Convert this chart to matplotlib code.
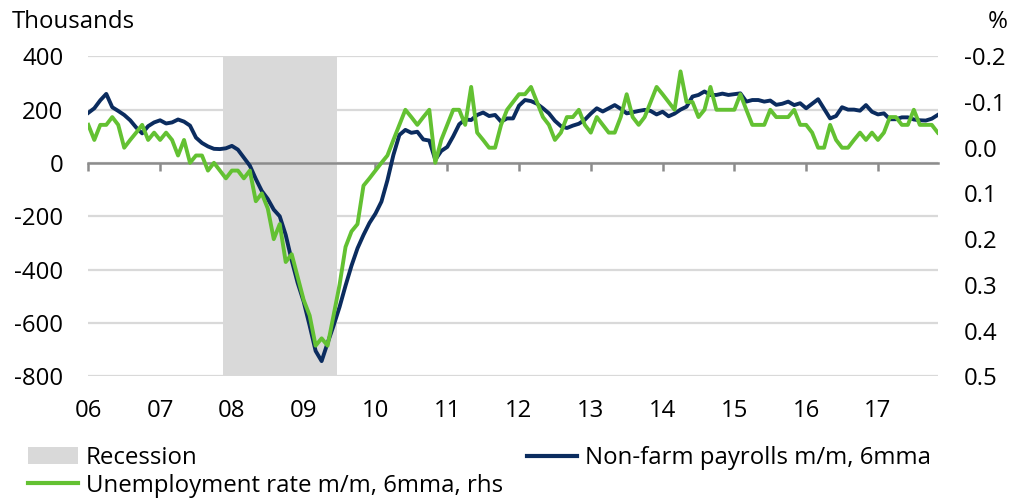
import numpy as np
import matplotlib
matplotlib.use("Agg")
import matplotlib.pyplot as plt
from matplotlib.patches import Patch
from matplotlib.lines import Line2D

plt.rcParams["font.family"] = ["Open Sans", "DejaVu Sans"]
plt.rcParams["axes.unicode_minus"] = False

# monthly data, Jan 2006 - Nov 2017
year_labels = ["06", "07", "08", "09", "10", "11", "12", "13", "14", "15", "16", "17"]

# non-farm payrolls m/m, 6mma (thousands)
nfp = [
    188, 205, 235, 259, 209, 195, 180, 160, 133, 111, 138, 152,        # 2006
    160, 148, 152, 163, 155, 140, 95, 75, 62, 53, 52, 55,              # 2007
    64, 50, 20, -10, -60, -105, -135, -175, -200, -270, -365, -450,    # 2008
    -520, -610, -705, -743, -675, -610, -540, -460, -385, -320, -270, -225,  # 2009
    -190, -145, -65, 30, 105, 124, 113, 117, 88, 84, 12, 45,           # 2010
    60, 100, 145, 163, 161, 180, 189, 176, 180, 155, 167, 167,         # 2011
    215, 236, 232, 222, 205, 186, 158, 138, 131, 140, 147, 162,        # 2012
    185, 205, 193, 205, 217, 203, 186, 190, 195, 199, 195, 182,        # 2013
    192, 175, 185, 200, 211, 249, 255, 268, 255, 255, 260, 255,        # 2014
    258, 261, 230, 236, 236, 230, 234, 218, 222, 230, 217, 224,        # 2015
    205, 222, 239, 203, 167, 176, 209, 200, 200, 196, 217, 192,        # 2016
    182, 186, 164, 164, 171, 171, 163, 160, 159, 166, 180,             # 2017
]

# unemployment rate m/m, 6mma (%, rhs, inverted)
unemp = [
    -0.050, -0.017, -0.050, -0.050, -0.067, -0.050, 0.000, -0.017, -0.033, -0.050, -0.017, -0.033,
    -0.017, -0.033, -0.017, 0.017, -0.017, 0.033, 0.017, 0.017, 0.050, 0.033, 0.050, 0.067,
    0.050, 0.050, 0.067, 0.050, 0.117, 0.100, 0.133, 0.200, 0.167, 0.250, 0.233, 0.283,
    0.333, 0.367, 0.433, 0.417, 0.433, 0.367, 0.300, 0.217, 0.183, 0.167, 0.083, 0.067,
    0.050, 0.033, 0.017, -0.017, -0.050, -0.083, -0.067, -0.050, -0.067, -0.083, 0.033, -0.017,
    -0.050, -0.083, -0.083, -0.050, -0.133, -0.033, -0.017, 0.000, 0.000, -0.050, -0.083, -0.100,
    -0.117, -0.117, -0.133, -0.100, -0.067, -0.050, -0.017, -0.033, -0.067, -0.067, -0.083, -0.050,
    -0.033, -0.067, -0.050, -0.033, -0.033, -0.067, -0.117, -0.067, -0.050, -0.067, -0.100, -0.133,
    -0.117, -0.100, -0.083, -0.167, -0.100, -0.100, -0.067, -0.083, -0.133, -0.083, -0.083, -0.083,
    -0.083, -0.117, -0.083, -0.050, -0.050, -0.050, -0.083, -0.067, -0.067, -0.067, -0.083, -0.050,
    -0.050, -0.033, 0.000, 0.000, -0.050, -0.017, 0.000, 0.000, -0.017, -0.033, -0.017, -0.033,
    -0.017, -0.033, -0.067, -0.067, -0.050, -0.050, -0.083, -0.050, -0.050, -0.050, -0.033,
]

# recession months (index): Dec 2007 - Jun 2009
rec_start = 23
rec_end = 41

lhs_ticks = [-800, -600, -400, -200, 0, 200, 400]
rhs_ticks = [-0.2, -0.1, 0.0, 0.1, 0.2, 0.3, 0.4, 0.5]

navy = "#0b2c5f"
green = "#63c132"
shade = "#d9d9d9"
fs = 17.3

fig = plt.figure(figsize=(10.27, 4.99), dpi=100)
ax = fig.add_axes([0.086, 0.2459, 0.8271, 0.6413])

x = np.arange(len(nfp))
ax.set_axisbelow(True)
ax.axvspan(rec_start - 0.5, rec_end + 0.5, color=shade, lw=0, zorder=1)
ax.plot(x, nfp, color=navy, lw=2.8, zorder=3)
ax.set_xlim(0, len(nfp) - 1)
ax.set_ylim(-800, 400)
ax.set_yticks(lhs_ticks)
ax.yaxis.grid(True, color=shade, lw=1.6)
ax.tick_params(axis="y", length=0, pad=18, labelsize=fs)

for s in ["top", "left", "right"]:
    ax.spines[s].set_visible(False)
ax.spines["bottom"].set_position(("data", 0))
ax.spines["bottom"].set_color("#8c8c8c")
ax.spines["bottom"].set_linewidth(1.8)
ax.spines["bottom"].set_zorder(2)
ax.set_xticks(x[::12])
ax.tick_params(axis="x", direction="out", length=6, width=1.8, color="#8c8c8c", labelbottom=False)

# year labels under the plot
sec = ax.secondary_xaxis("bottom")
sec.set_xticks(x[::12])
sec.set_xticklabels(year_labels)
sec.tick_params(length=0, pad=16, labelsize=fs)
sec.spines["bottom"].set_visible(False)

ax2 = ax.twinx()
ax2.plot(x, unemp, color=green, lw=2.8)
ax2.set_ylim(0.5, -0.2)
ax2.set_yticks(rhs_ticks)
ax2.set_yticklabels(["%.1f" % t for t in rhs_ticks])
ax2.tick_params(axis="y", length=0, pad=19, labelsize=fs)
for s in ax2.spines.values():
    s.set_visible(False)

fig.text(12 / 1027, 1 - 28 / 499, "Thousands", fontsize=fs, ha="left", va="baseline")
fig.text(1008 / 1027, 1 - 28 / 499, "%", fontsize=fs, ha="right", va="baseline")

handles = [
    Patch(facecolor=shade, edgecolor="none"),
    Line2D([], [], color=green, lw=3),
    Line2D([], [], color=navy, lw=3),
]
labels = ["Recession", "Unemployment rate m/m, 6mma, rhs", "Non-farm payrolls m/m, 6mma"]
fig.legend(handles, labels, ncol=2, loc="upper left", bbox_to_anchor=(0.0273, 0.106),
           frameon=False, fontsize=fs, handlelength=2.1, handletextpad=0.3,
           columnspacing=1.0, borderpad=0, borderaxespad=0, labelspacing=0.15)

fig.savefig("out.png", dpi=100)
plt.close()
